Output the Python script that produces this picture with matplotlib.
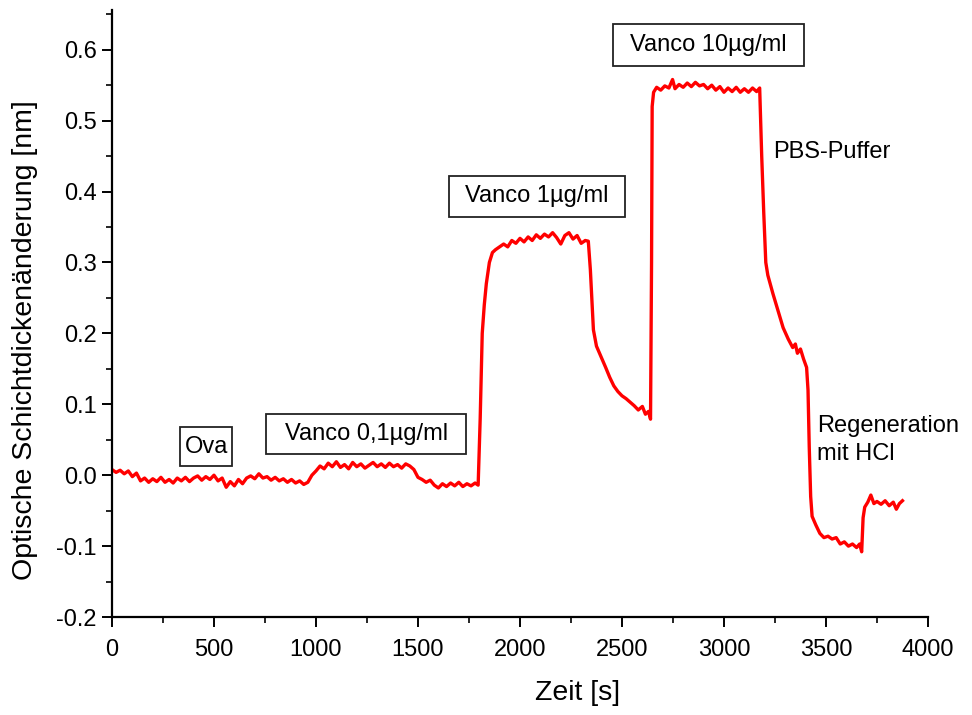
import matplotlib
matplotlib.use("Agg")
import matplotlib.pyplot as plt
from matplotlib.patches import Rectangle
from matplotlib.ticker import MultipleLocator

plt.rcParams['font.family'] = ['Liberation Sans', 'DejaVu Sans']

# Zeit [s] und optische Schichtdickenaenderung [nm]
time_s = [
    0, 20, 40, 60, 80, 100, 120, 140, 160, 180, 200, 220, 240, 260, 280, 300,
    320, 340, 360, 380, 400, 420, 440, 460, 480, 500, 520, 540, 560, 580, 600,
    620, 640, 660, 680, 700, 720, 740, 760, 780, 800, 820, 840, 860, 880, 900,
    920, 940, 960, 980, 1000, 1020, 1040, 1060, 1080, 1100, 1120, 1140, 1160,
    1180, 1200, 1220, 1240, 1260, 1280, 1300, 1320, 1340, 1360, 1380, 1400,
    1420, 1440, 1460, 1480, 1500, 1520, 1540, 1560, 1580, 1600, 1620, 1640,
    1660, 1680, 1700, 1720, 1740, 1760, 1780, 1795,
    1805, 1815, 1825, 1835, 1850, 1865, 1880, 1900, 1920, 1940, 1960, 1980,
    2000, 2020, 2040, 2060, 2080, 2100, 2120, 2140, 2160, 2180, 2200, 2220,
    2240, 2260, 2280, 2300, 2320, 2335, 2345, 2352, 2360, 2375, 2390, 2405,
    2420, 2440, 2460, 2480, 2500, 2520, 2540, 2560, 2580, 2600, 2615, 2630,
    2640, 2645, 2648, 2655, 2670, 2690, 2710, 2730, 2748, 2760, 2780, 2800,
    2820, 2840, 2860, 2880, 2900, 2920, 2940, 2960, 2980, 3000, 3020, 3040,
    3060, 3080, 3100, 3120, 3140, 3160, 3175, 3185, 3195, 3205, 3215, 3240,
    3265, 3290, 3315, 3337, 3350, 3360, 3375, 3390, 3405, 3412, 3418, 3425,
    3432, 3450, 3470, 3490, 3510, 3530, 3550, 3570, 3590, 3610, 3630, 3650,
    3665, 3675, 3682, 3690, 3705, 3720, 3735, 3750, 3770, 3790, 3810, 3830,
    3845, 3860, 3875,
]
shift_nm = [
    0.008, 0.004, 0.007, 0.002, 0.006, -0.002, 0.003, -0.008, -0.004, -0.010,
    -0.005, -0.009, -0.003, -0.010, -0.006, -0.011, -0.004, -0.008, -0.003,
    -0.009, -0.004, -0.001, -0.007, -0.002, -0.006, 0.000, -0.008, -0.004,
    -0.017, -0.009, -0.015, -0.006, -0.012, -0.004, -0.001, -0.005, 0.002,
    -0.004, -0.002, -0.007, -0.003, -0.008, -0.005, -0.010, -0.006, -0.011,
    -0.008, -0.013, -0.010, 0.000, 0.006, 0.013, 0.009, 0.017, 0.012, 0.019,
    0.011, 0.015, 0.009, 0.018, 0.012, 0.016, 0.010, 0.014, 0.018, 0.012,
    0.016, 0.011, 0.017, 0.012, 0.015, 0.010, 0.016, 0.013, 0.008, -0.003,
    -0.006, -0.010, -0.007, -0.014, -0.018, -0.012, -0.016, -0.011, -0.015,
    -0.010, -0.016, -0.012, -0.015, -0.011, -0.014,
    0.080, 0.200, 0.240, 0.270, 0.300, 0.314, 0.318, 0.322, 0.326, 0.322,
    0.331, 0.327, 0.334, 0.329, 0.336, 0.331, 0.339, 0.334, 0.340, 0.336,
    0.342, 0.335, 0.326, 0.338, 0.342, 0.333, 0.338, 0.327, 0.331, 0.330,
    0.290, 0.250, 0.205, 0.182, 0.172, 0.162, 0.152, 0.138, 0.126, 0.118,
    0.112, 0.108, 0.103, 0.098, 0.092, 0.097, 0.086, 0.090, 0.079, 0.300,
    0.520, 0.540, 0.547, 0.543, 0.549, 0.546, 0.558, 0.545, 0.551, 0.547,
    0.553, 0.548, 0.554, 0.549, 0.551, 0.545, 0.550, 0.543, 0.548, 0.540,
    0.546, 0.541, 0.547, 0.540, 0.545, 0.540, 0.546, 0.541, 0.546, 0.450,
    0.370, 0.300, 0.282, 0.256, 0.232, 0.208, 0.192, 0.180, 0.185, 0.172,
    0.178, 0.164, 0.152, 0.120, 0.040, -0.030, -0.058, -0.070, -0.082,
    -0.088, -0.086, -0.090, -0.088, -0.097, -0.094, -0.100, -0.097, -0.102,
    -0.097, -0.108, -0.060, -0.045, -0.038, -0.028, -0.040, -0.037, -0.041,
    -0.036, -0.043, -0.038, -0.048, -0.040, -0.036,
]

# Beschriftungen mit Rahmen: Text, Zeitbereich, Hoehenbereich
box_labels = ["Ova", "Vanco 0,1µg/ml", "Vanco 1µg/ml", "Vanco 10µg/ml"]
box_t = [(334, 589), (756, 1737), (1654, 2513), (2454, 3391)]
box_v = [(0.0127, 0.0676), (0.0296, 0.0859), (0.3648, 0.4225), (0.5775, 0.6366)]

fig = plt.figure(figsize=(9.72, 7.15), dpi=100)
ax = fig.add_axes([0.1152, 0.137, 0.8395, 0.849])

ax.plot(time_s, shift_nm, color='#ff0000', lw=2.4)

for label, (t0, t1), (v0, v1) in zip(box_labels, box_t, box_v):
    ax.add_patch(Rectangle((t0, v0), t1 - t0, v1 - v0, fill=False,
                           ec='#222222', lw=1.3))
    ax.text((t0 + t1) / 2, (v0 + v1) / 2, label, ha='center', va='center',
            fontsize=17)

ax.text(3239, 0.448, "PBS-Puffer", fontsize=17, va='baseline')
ax.text(3455, 0.061, "Regeneration", fontsize=17, va='baseline')
ax.text(3455, 0.021, "mit HCl", fontsize=17, va='baseline')

ax.set_xlim(0, 4000)
ax.set_ylim(-0.2, 0.656)
ax.xaxis.set_major_locator(MultipleLocator(500))
ax.xaxis.set_minor_locator(MultipleLocator(250))
ax.yaxis.set_minor_locator(MultipleLocator(0.05))
ax.set_yticks([-0.2, -0.1, 0.0, 0.1, 0.2, 0.3, 0.4, 0.5, 0.6])
ax.set_yticklabels(['-0.2', '-0.1', '0.0', '0.1', '0.2', '0.3', '0.4', '0.5', '0.6'])

for side in ['top', 'right']:
    ax.spines[side].set_visible(False)
for side in ['left', 'bottom']:
    ax.spines[side].set_linewidth(1.6)

ax.tick_params(which='major', direction='out', length=7, width=1.4,
               labelsize=17)
ax.tick_params(which='minor', direction='out', length=4, width=1.2)
ax.tick_params(axis='x', which='major', pad=9)
ax.tick_params(axis='y', which='major', pad=4)

ax.set_xlabel("Zeit [s]", fontsize=20.5)
ax.set_ylabel("Optische Schichtdickenänderung [nm]", fontsize=20.5)
ax.xaxis.set_label_coords(0.57, -0.103)
ax.yaxis.set_label_coords(-0.091, 0.456)

fig.savefig("out.png", dpi=100)
